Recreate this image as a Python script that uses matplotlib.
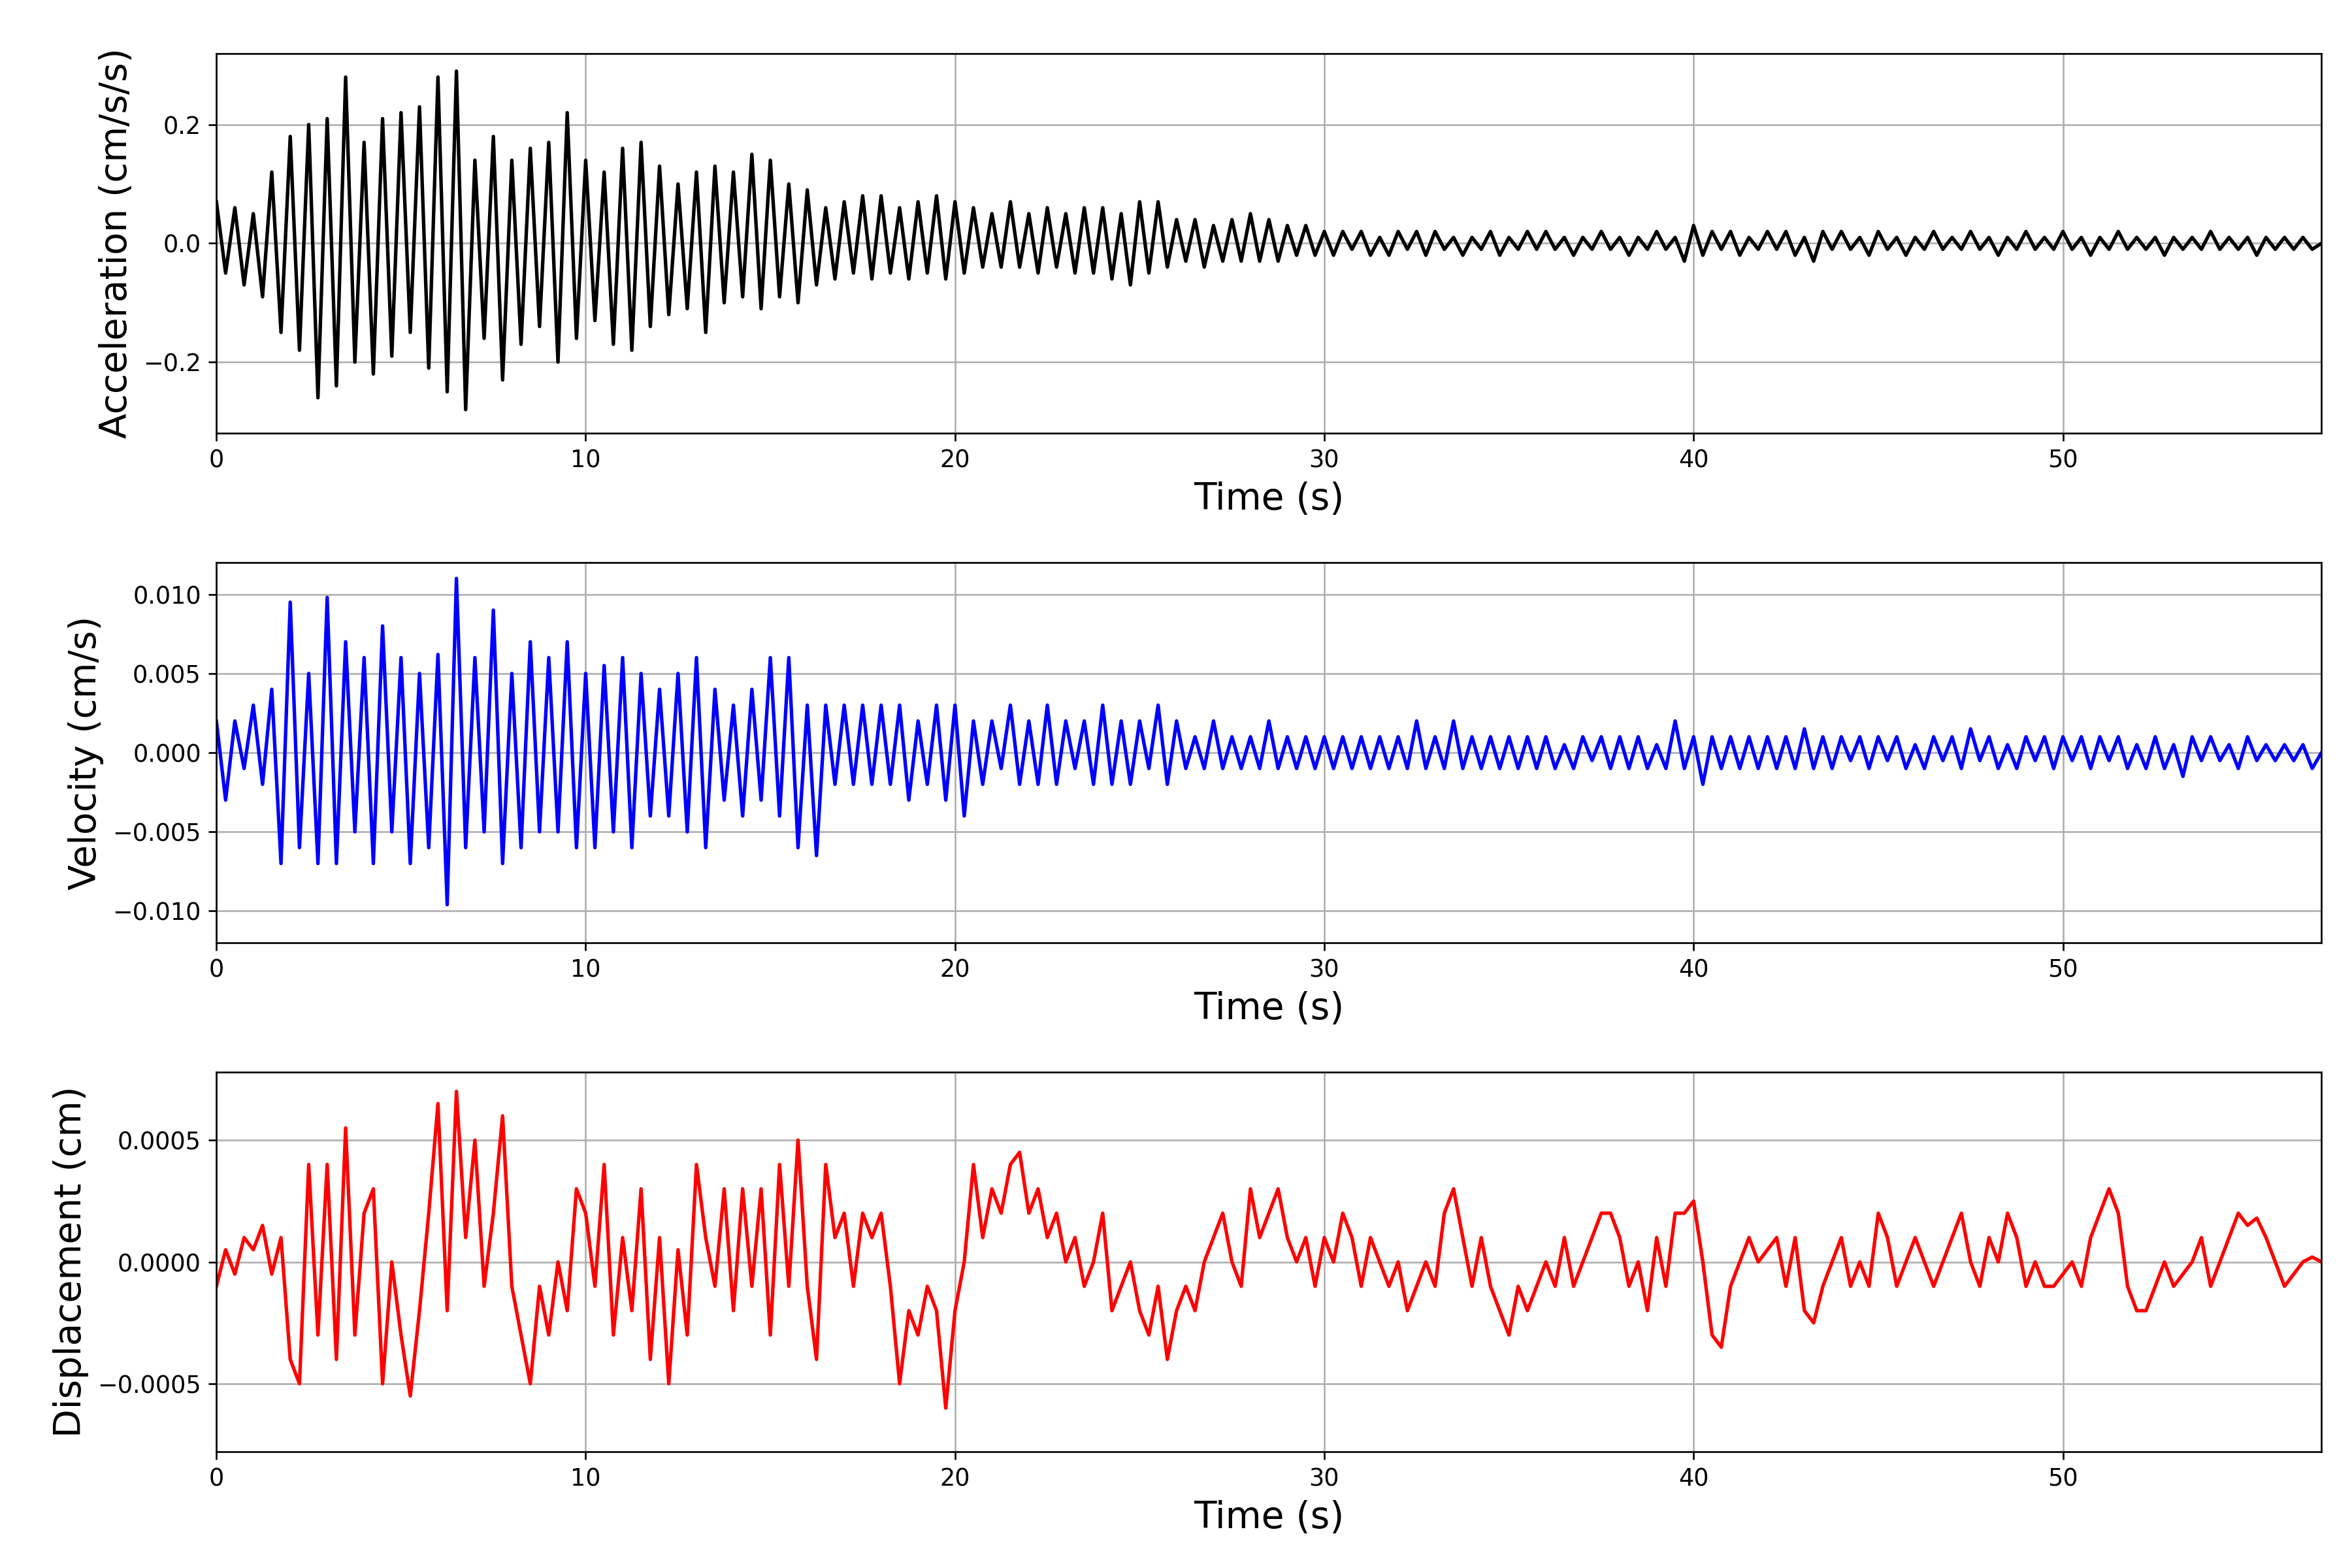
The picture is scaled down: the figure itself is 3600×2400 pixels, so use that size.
import matplotlib
matplotlib.use("Agg")
import matplotlib.pyplot as plt
import numpy as np

DT = 0.25  # spacing of the read-off samples (s)

# acceleration peaks, cm/s/s
acc = [
    0.07, -0.05, 0.06, -0.07, 0.05, -0.09, 0.12, -0.15,
    0.18, -0.18, 0.20, -0.26, 0.21, -0.24, 0.28, -0.20,
    0.17, -0.22, 0.21, -0.19, 0.22, -0.15, 0.23, -0.21,
    0.28, -0.25, 0.29, -0.28, 0.14, -0.16, 0.18, -0.23,
    0.14, -0.17, 0.16, -0.14, 0.17, -0.20, 0.22, -0.16,
    0.14, -0.13, 0.12, -0.17, 0.16, -0.18, 0.17, -0.14,
    0.13, -0.12, 0.10, -0.11, 0.12, -0.15, 0.13, -0.10,
    0.12, -0.09, 0.15, -0.11, 0.14, -0.09, 0.10, -0.10,
    0.09, -0.07, 0.06, -0.06, 0.07, -0.05, 0.08, -0.06,
    0.08, -0.05, 0.06, -0.06, 0.07, -0.05, 0.08, -0.06,
    0.07, -0.05, 0.06, -0.04, 0.05, -0.04, 0.07, -0.04,
    0.05, -0.05, 0.06, -0.04, 0.05, -0.05, 0.06, -0.05,
    0.06, -0.06, 0.05, -0.07, 0.07, -0.05, 0.07, -0.04,
    0.04, -0.03, 0.04, -0.04, 0.03, -0.03, 0.04, -0.03,
    0.05, -0.03, 0.04, -0.03, 0.03, -0.02, 0.03, -0.02,
    0.02, -0.02, 0.02, -0.01, 0.02, -0.02, 0.01, -0.02,
    0.02, -0.01, 0.02, -0.02, 0.02, -0.01, 0.01, -0.02,
    0.01, -0.01, 0.02, -0.02, 0.01, -0.01, 0.02, -0.01,
    0.02, -0.01, 0.01, -0.02, 0.01, -0.01, 0.02, -0.01,
    0.01, -0.02, 0.01, -0.01, 0.02, -0.01, 0.01, -0.03,
    0.03, -0.02, 0.02, -0.01, 0.02, -0.02, 0.01, -0.01,
    0.02, -0.01, 0.02, -0.02, 0.01, -0.03, 0.02, -0.01,
    0.02, -0.01, 0.01, -0.02, 0.02, -0.01, 0.01, -0.02,
    0.01, -0.01, 0.02, -0.01, 0.01, -0.01, 0.02, -0.01,
    0.01, -0.02, 0.01, -0.01, 0.02, -0.01, 0.01, -0.01,
    0.02, -0.01, 0.01, -0.02, 0.01, -0.01, 0.02, -0.01,
    0.01, -0.01, 0.01, -0.02, 0.01, -0.01, 0.01, -0.01,
    0.02, -0.01, 0.01, -0.01, 0.01, -0.02, 0.01, -0.01,
    0.01, -0.01, 0.01, -0.01, 0.0,
]

# velocity peaks, units of 1e-3 cm/s
vel_milli = [
    2, -3, 2, -1, 3, -2, 4, -7,
    9.5, -6, 5, -7, 9.8, -7, 7, -5,
    6, -7, 8, -5, 6, -7, 5, -6,
    6.2, -9.6, 11, -6, 6, -5, 9, -7,
    5, -6, 7, -5, 6, -5, 7, -6,
    5, -6, 5.5, -5, 6, -6, 5, -4,
    4, -4, 5, -5, 6, -6, 4, -3,
    3, -4, 4, -3, 6, -4, 6, -6,
    3, -6.5, 3, -2, 3, -2, 3, -2,
    3, -2, 3, -3, 2, -2, 3, -3,
    3, -4, 2, -2, 2, -1, 3, -2,
    2, -2, 3, -2, 2, -1, 2, -2,
    3, -2, 2, -2, 2, -1, 3, -2,
    2, -1, 1, -1, 2, -1, 1, -1,
    1, -1, 2, -1, 1, -1, 1, -1,
    1, -1, 1, -1, 1, -1, 1, -1,
    1, -1, 2, -1, 1, -1, 2, -1,
    1, -1, 1, -1, 1, -1, 1, -1,
    1, -1, 0.5, -1, 1, -0.5, 1, -1,
    1, -1, 1, -1, 0.5, -1, 2, -1,
    1, -2, 1, -1, 1, -1, 1, -1,
    1, -1, 1, -1, 1.5, -1, 1, -1,
    1, -0.5, 1, -1, 1, -0.5, 1, -1,
    0.5, -1, 1, -0.5, 1, -1, 1.5, -0.5,
    1, -1, 0.5, -1, 1, -0.5, 1, -1,
    1, -0.5, 1, -1, 1, -0.5, 1, -1,
    0.5, -1, 1, -1, 0.5, -1.5, 1, -0.5,
    1, -0.5, 0.5, -1, 1, -0.5, 0.5, -0.5,
    0.5, -0.5, 0.5, -1, 0,
]

# displacement, units of 1e-4 cm
disp_e4 = [
    -1, 0.5, -0.5, 1, 0.5, 1.5, -0.5, 1,
    -4, -5, 4, -3, 4, -4, 5.5, -3,
    2, 3, -5, 0, -3, -5.5, -2, 2,
    6.5, -2, 7, 1, 5, -1, 2, 6,
    -1, -3, -5, -1, -3, 0, -2, 3,
    2, -1, 4, -3, 1, -2, 3, -4,
    1, -5, 0.5, -3, 4, 1, -1, 3,
    -2, 3, -1, 3, -3, 4, -1, 5,
    -1, -4, 4, 1, 2, -1, 2, 1,
    2, -1, -5, -2, -3, -1, -2, -6,
    -2, 0, 4, 1, 3, 2, 4, 4.5,
    2, 3, 1, 2, 0, 1, -1, 0,
    2, -2, -1, 0, -2, -3, -1, -4,
    -2, -1, -2, 0, 1, 2, 0, -1,
    3, 1, 2, 3, 1, 0, 1, -1,
    1, 0, 2, 1, -1, 1, 0, -1,
    0, -2, -1, 0, -1, 2, 3, 1,
    -1, 1, -1, -2, -3, -1, -2, -1,
    0, -1, 1, -1, 0, 1, 2, 2,
    1, -1, 0, -2, 1, -1, 2, 2,
    2.5, 0, -3, -3.5, -1, 0, 1, 0,
    0.5, 1, -1, 1, -2, -2.5, -1, 0,
    1, -1, 0, -1, 2, 1, -1, 0,
    1, 0, -1, 0, 1, 2, 0, -1,
    1, 0, 2, 1, -1, 0, -1, -1,
    -0.5, 0, -1, 1, 2, 3, 2, -1,
    -2, -2, -1, 0, -1, -0.5, 0, 1,
    -1, 0, 1, 2, 1.5, 1.8, 1, 0,
    -1, -0.5, 0, 0.2, 0,
]

t = np.arange(len(acc)) * DT
vel = np.array(vel_milli) * 1e-3
disp = np.array(disp_e4) * 1e-4

fig, axes = plt.subplots(3, 1, figsize=(15, 10))
series = [(acc, "black", "Acceleration (cm/s/s)", 0.32, [-0.2, 0.0, 0.2]),
          (vel, "blue", "Velocity (cm/s)", 0.012, [-0.01, -0.005, 0, 0.005, 0.01]),
          (disp, "red", "Displacement (cm)", 0.00078, [-0.0005, 0, 0.0005])]
for ax, (vals, color, label, lim, ticks) in zip(axes, series):
    ax.plot(t, vals, color=color, lw=1.6)
    ax.set_xlim(0, 57)
    ax.set_ylim(-lim, lim)
    ax.set_yticks(ticks)
    ax.set_ylabel(label, fontsize=17)
    ax.set_xlabel("Time (s)", fontsize=17)
    ax.tick_params(labelsize=11)
    ax.grid(True)

plt.subplots_adjust(left=0.092, right=0.987, top=0.966, bottom=0.074, hspace=0.34)
plt.savefig("out.png", dpi=240)
